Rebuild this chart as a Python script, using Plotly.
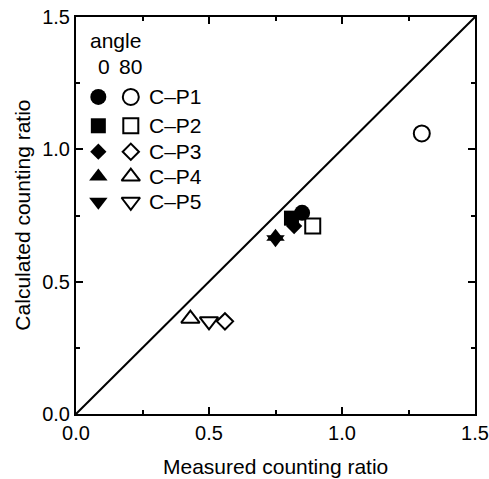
import plotly.graph_objects as go

series = ["C–P1", "C–P2", "C–P3", "C–P4", "C–P5"]
symbols = ["circle", "square", "diamond", "triangle-up", "triangle-down"]
# angle 0 (filled)
x0 = [0.85, 0.81, 0.82, 0.75, 0.75]
y0 = [0.76, 0.74, 0.71, 0.67, 0.66]
# angle 80 (open)
x80 = [1.30, 0.89, 0.56, 0.43, 0.50]
y80 = [1.06, 0.71, 0.35, 0.36, 0.35]

FONT = "Liberation Sans, Arial, sans-serif"

fig = go.Figure()

# identity line
fig.add_trace(go.Scatter(x=[0, 1.5], y=[0, 1.5], mode="lines",
                         line=dict(color="black", width=2), showlegend=False))

sizes = [16, 15, 12.5, 16, 16]
for i, s in enumerate(series):
    fig.add_trace(go.Scatter(x=[x0[i]], y=[y0[i]], mode="markers",
                             marker=dict(symbol=symbols[i], size=sizes[i], color="black",
                                         line=dict(width=0)), showlegend=False))
    fig.add_trace(go.Scatter(x=[x80[i]], y=[y80[i]], mode="markers",
                             marker=dict(symbol=symbols[i] + "-open", size=sizes[i], color="black",
                                         line=dict(width=2, color="black")), showlegend=False))

# hand-built legend in the upper-left corner
leg_y = [1.198, 1.089, 0.991, 0.897, 0.802]
for i, s in enumerate(series):
    fig.add_trace(go.Scatter(x=[0.084], y=[leg_y[i]], mode="markers",
                             marker=dict(symbol=symbols[i], size=sizes[i], color="black",
                                         line=dict(width=0)), showlegend=False))
    fig.add_trace(go.Scatter(x=[0.206], y=[leg_y[i]], mode="markers",
                             marker=dict(symbol=symbols[i] + "-open", size=sizes[i], color="black",
                                         line=dict(width=2, color="black")), showlegend=False))
    fig.add_annotation(x=0.268, y=leg_y[i], text=s, showarrow=False, xanchor="left",
                       yanchor="middle", font=dict(size=21, color="black", family=FONT))
fig.add_annotation(x=0.045, y=1.413, text="angle", showarrow=False, xanchor="left",
                   yanchor="middle", font=dict(size=21, color="black", family=FONT))
fig.add_annotation(x=0.105, y=1.313, text="0", showarrow=False, xanchor="center",
                   yanchor="middle", font=dict(size=21, color="black", family=FONT))
fig.add_annotation(x=0.203, y=1.313, text="80", showarrow=False, xanchor="center",
                   yanchor="middle", font=dict(size=21, color="black", family=FONT))

# axis titles
fig.add_annotation(xref="paper", yref="paper", x=0.5, y=-0.131, text="Measured counting ratio",
                   showarrow=False, xanchor="center", yanchor="middle",
                   font=dict(size=21, color="black", family=FONT))
fig.add_annotation(xref="paper", yref="paper", x=-0.135, y=0.5, text="Calculated counting ratio",
                   showarrow=False, xanchor="center", yanchor="middle", textangle=-90,
                   font=dict(size=21, color="black", family=FONT))

axis_common = dict(range=[0, 1.5], tickvals=[0, 0.5, 1.0, 1.5],
                   ticktext=["0.0", "0.5", "1.0", "1.5"],
                   ticks="inside", ticklen=7, tickwidth=1.5, tickcolor="black",
                   minor=dict(tickvals=[0.25, 0.75, 1.25], ticks="inside", ticklen=4,
                              tickwidth=1.5, tickcolor="black"),
                   showline=True, linecolor="black", linewidth=2, mirror="ticks",
                   showgrid=False, zeroline=False, automargin=False,
                   tickfont=dict(size=20, color="black", family=FONT))

fig.update_xaxes(**axis_common)
fig.update_yaxes(**axis_common)

fig.update_layout(width=489, height=479, margin=dict(l=76, r=14, t=17, b=65),
                  plot_bgcolor="white", paper_bgcolor="white",
                  font=dict(family=FONT, color="black"),
                  showlegend=False)

fig.write_html("out.html")
